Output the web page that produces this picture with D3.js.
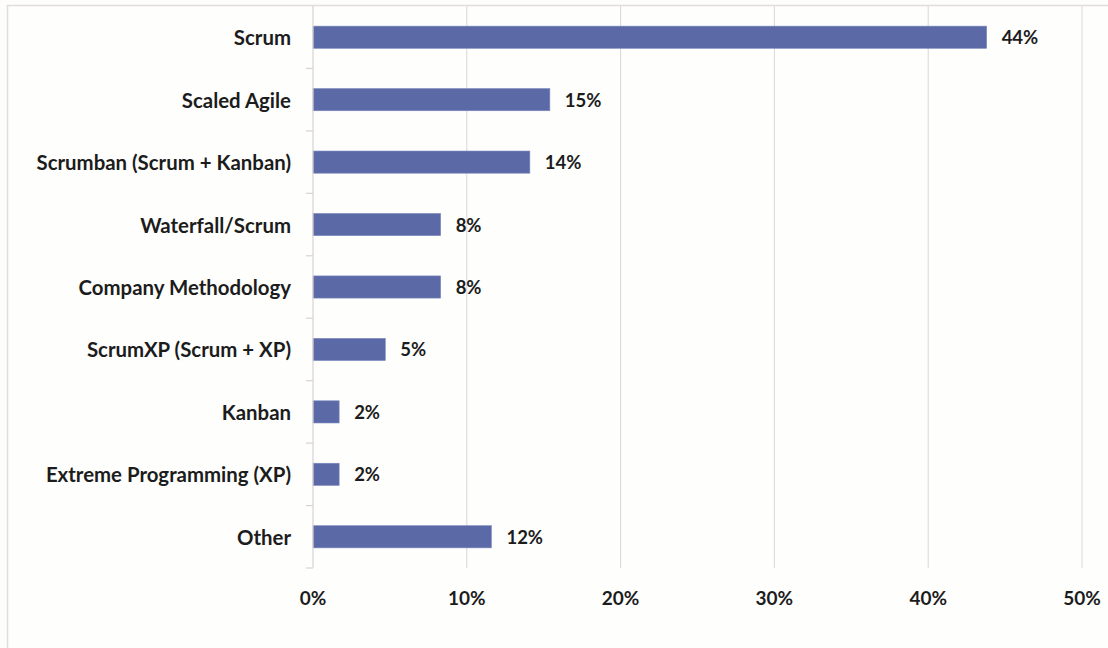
<!DOCTYPE html>
<html>
<head>
<meta charset="utf-8">
<script src="https://cdn.jsdelivr.net/npm/d3@7"></script>
<style>
  html, body { margin: 0; padding: 0; background: #fdfdfc; }
  svg { display: block; }
  text { font-family: Lato, "Open Sans", sans-serif; font-weight: bold; fill: #1c1c1c; }
</style>
</head>
<body>
<svg id="chart" width="1108" height="648"></svg>
<script>
const categories = ["Scrum", "Scaled Agile", "Scrumban (Scrum + Kanban)", "Waterfall/Scrum",
  "Company Methodology", "ScrumXP (Scrum + XP)", "Kanban", "Extreme Programming (XP)", "Other"];
const values = [0.438, 0.154, 0.141, 0.083, 0.083, 0.047, 0.017, 0.017, 0.116];
const xTicks = [0, 0.1, 0.2, 0.3, 0.4, 0.5];

const svg = d3.select("#chart");
const W = 1108, H = 648;
const margin = { left: 313, right: 26, top: 6, bottom: 80 };

// chart frame
svg.append("rect").attr("x", 7.5).attr("y", 5.5).attr("width", W + 10).attr("height", H + 10)
  .attr("fill", "#fefefd").attr("stroke", "#e3dcdc").attr("stroke-width", 1.5);

const x = d3.scaleLinear().domain([0, 0.5]).range([margin.left, W - margin.right]);
const y = d3.scaleBand().domain(categories).range([margin.top, H - margin.bottom]).paddingInner(0.645).paddingOuter(0.3225);

// gridlines
svg.append("g").selectAll("line").data(xTicks.slice(1)).join("line")
  .attr("x1", d => x(d)).attr("x2", d => x(d))
  .attr("y1", margin.top).attr("y2", H - margin.bottom)
  .attr("stroke", "#ddd6d6").attr("stroke-width", 1);

// bars
svg.append("g").selectAll("rect").data(values).join("rect")
  .attr("x", x(0)).attr("y", (d, i) => y(categories[i]))
  .attr("width", d => x(d) - x(0)).attr("height", y.bandwidth())
  .attr("fill", "#5b6aa7").attr("stroke", "#7b88bd").attr("stroke-width", 0.6);

// y axis line and ticks at band boundaries
const yAxisG = svg.append("g");
yAxisG.append("line").attr("x1", x(0)).attr("x2", x(0)).attr("y1", margin.top).attr("y2", H - margin.bottom)
  .attr("stroke", "#d9d2d2").attr("stroke-width", 1.2);
const bounds = d3.range(categories.length + 1).map(i => margin.top + i * y.step());
yAxisG.selectAll("line.tick").data(bounds.slice(1)).join("line").attr("class", "tick")
  .attr("x1", x(0) - 7).attr("x2", x(0)).attr("y1", d => d).attr("y2", d => d)
  .attr("stroke", "#d9d2d2").attr("stroke-width", 1.2);

// category labels
svg.append("g").selectAll("text").data(categories).join("text")
  .attr("x", x(0) - 22).attr("y", d => y(d) + y.bandwidth() / 2)
  .attr("text-anchor", "end").attr("dominant-baseline", "central")
  .style("font-size", "20.4px").text(d => d);

// value labels
const fmt = d3.format(".0%");
svg.append("g").selectAll("text").data(values).join("text")
  .attr("x", d => x(d) + 15).attr("y", (d, i) => y(categories[i]) + y.bandwidth() / 2)
  .attr("dominant-baseline", "central")
  .style("font-size", "18.5px").text(d => fmt(d));

// x tick labels
svg.append("g").selectAll("text").data(xTicks).join("text")
  .attr("x", d => x(d)).attr("y", 597)
  .attr("text-anchor", "middle").attr("dominant-baseline", "central")
  .style("font-size", "19px").text(d => fmt(d));
</script>
</body>
</html>
